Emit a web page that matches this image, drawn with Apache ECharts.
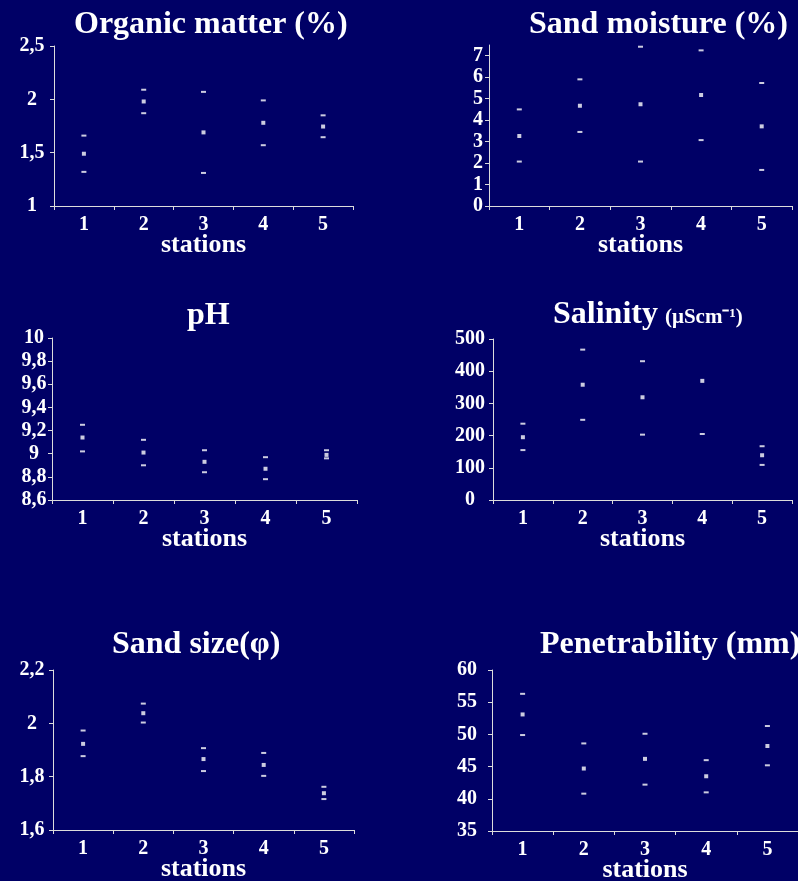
<!DOCTYPE html>
<html>
<head>
<meta charset="utf-8">
<script src="https://cdn.jsdelivr.net/npm/echarts@6/dist/echarts.min.js"></script>
<style>
  html, body { margin: 0; padding: 0; background: #000066; }
  #chart { width: 798px; height: 881px; }
</style>
</head>
<body>
<div id="chart"></div>
<script>
// Sampling stations along the beach
const stations = ['1', '2', '3', '4', '5'];

// Organic matter (%)
const organicHigh = [1.66, 2.09, 2.07, 1.99, 1.85];
const organicMean = [1.49, 1.98, 1.69, 1.78, 1.745];
const organicLow  = [1.32, 1.87, 1.31, 1.57, 1.645];

// Sand moisture (%)
const moistureHigh = [4.50, 5.90, 7.42, 7.25, 5.73];
const moistureMean = [3.26, 4.67, 4.74, 5.17, 3.71];
const moistureLow  = [2.07, 3.45, 2.07, 3.07, 1.68];
const moistureTicks = [0, 1, 2, 3, 4, 5, 6, 7];

// pH
const phHigh = [9.25, 9.12, 9.03, 8.97, 9.03];
const phMean = [9.14, 9.01, 8.93, 8.87, 8.99];
const phLow  = [9.02, 8.90, 8.84, 8.78, 8.96];

// Salinity (µS/cm) — station 4 upper value lies above the axis range
const salinityHigh = [237, 467, 431, null, 167];
const salinityMean = [195, 358, 319, 370, 139];
const salinityLow  = [155, 249, 203, 205, 109];

// Sand grain size (phi)
const sandHigh = [1.973, 2.074, 1.907, 1.889, 1.762];
const sandMean = [1.923, 2.038, 1.866, 1.844, 1.738];
const sandLow  = [1.877, 2.003, 1.821, 1.803, 1.716];

// Penetrability (mm)
const penHigh = [56.3, 48.6, 50.1, 46.0, 51.3];
const penMean = [53.1, 44.7, 46.2, 43.5, 48.2];
const penLow  = [49.9, 40.8, 42.2, 41.0, 45.2];

const FONT = '"Liberation Serif", "Times New Roman", serif';
const WHITE = '#ffffff';
const AXIS = '#dcdcdc';

const panels = [
  { grid: { left: 54,  top: 46,  width: 299, height: 160 }, min: 1,   max: 2.5, interval: 0.5, labelGap: 22,
    high: organicHigh, mean: organicMean, low: organicLow },
  { grid: { left: 489, top: 45,  width: 303, height: 161 }, min: 0,   max: 7.5, interval: 1,   labelGap: 11,
    high: moistureHigh, mean: moistureMean, low: moistureLow, ticks: moistureTicks },
  { grid: { left: 52,  top: 338, width: 305, height: 162 }, min: 8.6, max: 10,  interval: 0.2, labelGap: 18,
    high: phHigh, mean: phMean, low: phLow },
  { grid: { left: 493, top: 339, width: 299, height: 161 }, min: 0,   max: 500, interval: 100, labelGap: 23,
    high: salinityHigh, mean: salinityMean, low: salinityLow },
  { grid: { left: 53,  top: 670, width: 301, height: 160 }, min: 1.6, max: 2.2, interval: 0.2, labelGap: 21,
    high: sandHigh, mean: sandMean, low: sandLow },
  { grid: { left: 492, top: 670, width: 306, height: 161 }, min: 35,  max: 60,  interval: 5,   labelGap: 25,
    high: penHigh, mean: penMean, low: penLow }
];

const fmt = v => String(Math.round(v * 10) / 10).replace('.', ',');

const titleText = (text, left, top, size) => ({
  text, left, top, padding: 0,
  textStyle: { color: WHITE, fontFamily: FONT, fontWeight: 'bold', fontSize: size }
});

const option = {
  backgroundColor: '#000066',
  animation: false,
  title: [
    titleText('Organic matter (%)', 74, 9, 32),
    titleText('Sand moisture (%)', 529, 9, 32),
    titleText('pH', 187, 300, 32),
    titleText('Salinity', 553, 299, 32),
    titleText('(\u03bcScm\u207b\u00b9)', 665, 307, 21),
    titleText('Sand size(\u03c6)', 112, 629, 32),
    titleText('Penetrability (mm)', 540, 629, 32)
  ],
  grid: panels.map(p => Object.assign({ containLabel: false, outerBoundsMode: 'none' }, p.grid)),
  xAxis: panels.map((p, i) => ({
    type: 'category',
    gridIndex: i,
    data: stations,
    boundaryGap: true,
    name: 'stations',
    nameLocation: 'middle',
    nameGap: 26,
    nameMoveOverlap: false,
    nameTextStyle: { color: WHITE, fontFamily: FONT, fontWeight: 'bold', fontSize: 26 },
    axisLine: { lineStyle: { color: AXIS, width: 1 } },
    axisTick: { show: true, inside: false, length: 4, lineStyle: { color: AXIS } },
    axisLabel: { color: WHITE, fontFamily: FONT, fontWeight: 'bold', fontSize: 20, margin: 9 },
    splitLine: { show: false }
  })),
  yAxis: panels.map((p, i) => {
    const ax = {
      type: 'value',
      gridIndex: i,
      min: p.min,
      max: p.max,
      interval: p.interval,
      axisLine: { show: true, lineStyle: { color: AXIS, width: 1 } },
      axisTick: { show: true, inside: false, length: 4, lineStyle: { color: AXIS } },
      axisLabel: { color: WHITE, fontFamily: FONT, fontWeight: 'bold', fontSize: 20,
                   align: 'center', margin: p.labelGap, formatter: fmt },
      splitLine: { show: false }
    };
    if (p.ticks) {
      ax.axisLabel.customValues = p.ticks;
      ax.axisTick.customValues = p.ticks;
    }
    return ax;
  }),
  series: panels.flatMap((p, i) => [
    { name: 'high', data: p.high, symbol: 'rect', symbolSize: [5, 2] },
    { name: 'mean', data: p.mean, symbol: 'rect', symbolSize: [4, 4] },
    { name: 'low',  data: p.low,  symbol: 'rect', symbolSize: [5, 2] }
  ].map(s => Object.assign(s, {
    type: 'scatter',
    xAxisIndex: i,
    yAxisIndex: i,
    clip: true,
    itemStyle: { color: WHITE },
    emphasis: { disabled: true }
  })))
};

const chart = echarts.init(document.getElementById('chart'), null, { renderer: 'canvas' });
chart.setOption(option);
</script>
</body>
</html>
